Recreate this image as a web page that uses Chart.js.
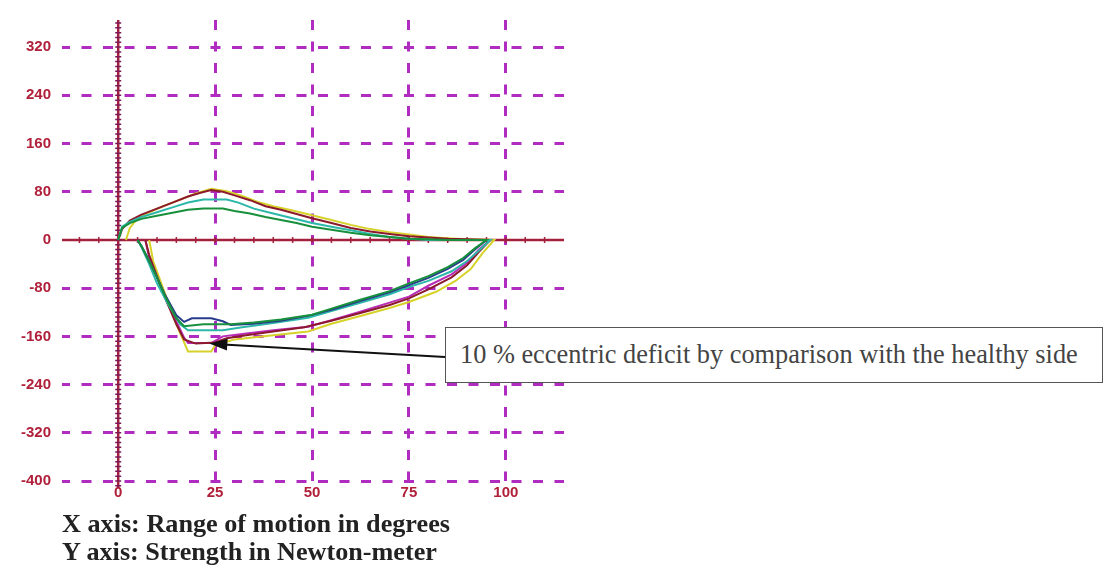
<!DOCTYPE html>
<html>
<head>
<meta charset="utf-8">
<script src="https://cdn.jsdelivr.net/npm/chart.js@4.4.1/dist/chart.umd.min.js"></script>
<style>
  body { margin: 0; background: #fff; }
  #wrap { position: relative; width: 1104px; height: 571px; overflow: hidden; }
  #graph { position: absolute; left: 0; top: 0; }
  .note {
    position: absolute; left: 445px; top: 327px; width: 658px; height: 56px;
    border: 1.5px solid #555; box-sizing: border-box; background: #fff;
    font-family: "Times New Roman", "Liberation Serif", "DejaVu Serif", serif; font-size: 26px; color: #444;
    line-height: 53px; padding-left: 14px; white-space: nowrap;
  }
  .cap {
    position: absolute; left: 62px; font-family: "Times New Roman", "Liberation Serif", "DejaVu Serif", serif;
    font-weight: bold; font-size: 26px; line-height: 28px; color: #222; white-space: nowrap;
  }
</style>
</head>
<body>
<div id="wrap">
  <canvas id="graph" width="1104" height="571"></canvas>
  <div class="note"><span id="noteText">10 % eccentric deficit by comparison with the healthy side</span></div>
  <div class="cap" style="top:510px"><span id="cap1">X axis: Range of motion in degrees</span></div>
  <div class="cap" style="top:538px"><span id="cap2">Y axis: Strength in Newton-meter</span></div>
</div>
<script>
// tick labels
const xTicks = [0, 25, 50, 75, 100]
const yTicks = [-400, -320, -240, -160, -80, 0, 80, 160, 240, 320]

// each curve: up along the concentric side, back along the eccentric side
const maroonX = [0, 1, 3, 6, 10, 14, 18, 21, 24, 27, 30, 34, 38, 42, 46, 50, 55, 60, 65, 70, 75, 80, 85, 90, 96,
                 93, 90, 86, 80, 75, 70, 62, 55, 48, 40, 33, 28, 25, 20, 17, 15, 12, 10, 8, 7]
const maroonY = [0, 18, 32, 42, 52, 62, 72, 78, 83, 80, 74, 66, 56, 50, 43, 36, 28, 20, 14, 10, 6, 4, 2, 1, 0,
                 -20, -42, -62, -82, -97, -108, -122, -134, -145, -152, -158, -163, -170, -172, -165, -140, -95, -60, -25, 0]

const yellowX = [2, 3, 5, 8, 12, 16, 20, 24, 28, 32, 36, 40, 45, 50, 55, 60, 65, 70, 75, 80, 85, 90, 97,
                 94, 91, 87, 82, 75, 70, 62, 55, 49, 40, 30, 25, 24, 18, 17, 15, 13, 11, 9, 8]
const yellowY = [0, 20, 36, 46, 57, 67, 77, 85, 81, 73, 63, 56, 49, 41, 33, 25, 18, 13, 9, 5, 3, 1, 0,
                 -22, -48, -68, -86, -103, -113, -127, -139, -152, -158, -165, -175, -185, -185, -170, -140, -105, -70, -35, 0]

const magentaX = [96, 93, 90, 86, 80, 75, 70, 62, 55, 49, 40, 32, 27, 24, 18, 17, 15, 12, 10, 8, 7]
const magentaY = [0, -16, -38, -57, -76, -94, -104, -120, -133, -144, -150, -156, -160, -171, -171, -162, -135, -95, -62, -30, 0]

const tealX = [0, 1, 3, 6, 10, 14, 18, 22, 28, 31, 35, 40, 45, 50, 55, 60, 65, 70, 75, 80,
               96, 93, 90, 86, 80, 75, 70, 62, 55, 49, 40, 32, 27, 18, 16, 13, 10, 8, 6, 5]
const tealY = [0, 22, 30, 38, 46, 54, 62, 67, 67, 62, 52, 44, 36, 28, 22, 16, 10, 5, 2, 0,
               0, -18, -35, -52, -68, -78, -90, -105, -118, -129, -138, -145, -150, -150, -140, -108, -72, -40, -12, 0]

const navyX = [95, 92, 89, 85, 80, 75, 70, 62, 55, 49, 42, 35, 29, 27, 24, 19, 17, 15, 12, 10, 8, 6, 5]
const navyY = [0, -16, -33, -48, -63, -75, -87, -102, -116, -126, -134, -139, -141, -135, -130, -130, -136, -125, -90, -62, -35, -10, 0]

const greenX = [0, 1, 3, 6, 10, 14, 18, 22, 27, 30, 34, 38, 42, 46, 50, 55, 60, 65, 70, 75, 80, 85,
                95, 92, 89, 85, 80, 75, 70, 62, 55, 50, 42, 35, 29, 22, 17, 15, 12, 10, 8, 6, 5]
const greenY = [0, 20, 28, 35, 40, 45, 50, 52, 52, 48, 44, 38, 33, 28, 22, 17, 12, 8, 5, 2, 1, 0,
                0, -14, -30, -45, -60, -72, -85, -100, -114, -124, -132, -137, -140, -140, -143, -130, -92, -62, -35, -10, 0]

// arrow tip of the note, in chart values
const arrowTip = [23.5, -172]

const purple = '#b02cc0'
const axisRed = '#a3213c'

// shrink or grow a text to the width it has in the picture
function fitWidth(id, target) {
    const el = document.getElementById(id)
    const size = parseFloat(getComputedStyle(el).fontSize)
    const w = el.getBoundingClientRect().width
    el.style.fontSize = (size * target / w).toFixed(2) + 'px'
}
fitWidth('noteText', 618)
fitWidth('cap1', 388)
fitWidth('cap2', 375)

function pts(xs, ys) {
    return xs.map((x, i) => ({ x: x, y: ys[i] }))
}
function curve(xs, ys, color) {
    return { data: pts(xs, ys), borderColor: color, borderWidth: 2, showLine: true, pointRadius: 0, tension: 0, fill: false }
}

const axesPlugin = {
    id: 'axes',
    beforeDatasetsDraw(chart) {
        const c = chart.ctx, xs = chart.scales.x, ys = chart.scales.y
        const x0 = xs.getPixelForValue(0), y0 = ys.getPixelForValue(0)
        c.save()
        c.strokeStyle = axisRed
        c.lineWidth = 2.5
        c.beginPath()
        c.moveTo(xs.left, y0); c.lineTo(xs.right, y0)
        c.moveTo(x0, ys.top); c.lineTo(x0, ys.getPixelForValue(-412))
        c.stroke()
        c.lineWidth = 1.5
        c.beginPath()
        for (let v = -10; v <= 110; v += 5) {
            const p = xs.getPixelForValue(v)
            c.moveTo(p, y0 - 3); c.lineTo(p, y0 + 3)
        }
        c.stroke()
        c.strokeStyle = '#7a1a5a'
        c.beginPath()
        for (let v = -408; v <= 364; v += 8) {
            const p = ys.getPixelForValue(v)
            c.moveTo(x0 - 3, p); c.lineTo(x0 + 3, p)
        }
        c.stroke()
        c.restore()
    },
    afterDatasetsDraw(chart) {
        const c = chart.ctx
        const tx = chart.scales.x.getPixelForValue(arrowTip[0])
        const ty = chart.scales.y.getPixelForValue(arrowTip[1])
        const ex = 445, ey = 357
        const a = Math.atan2(ey - ty, ex - tx)
        c.save()
        c.strokeStyle = '#111'
        c.fillStyle = '#111'
        c.lineWidth = 2
        c.beginPath()
        c.moveTo(tx + 14 * Math.cos(a), ty + 14 * Math.sin(a)); c.lineTo(ex, ey)
        c.stroke()
        c.beginPath()
        c.moveTo(tx, ty)
        c.lineTo(tx + 18 * Math.cos(a) - 6 * Math.sin(a), ty + 18 * Math.sin(a) + 6 * Math.cos(a))
        c.lineTo(tx + 18 * Math.cos(a) + 6 * Math.sin(a), ty + 18 * Math.sin(a) - 6 * Math.cos(a))
        c.closePath()
        c.fill()
        c.restore()
    }
}

const graph = document.getElementById('graph').getContext('2d')
let myChart = new Chart(graph, {
    type: 'scatter',
    data: {
        datasets: [
            curve(greenX, greenY, '#17903c'),
            curve(navyX, navyY, '#283c8c'),
            curve(tealX, tealY, '#2cb8a8'),
            curve(maroonX, maroonY, '#8c1a2c'),
            curve(magentaX, magentaY, '#b82cb8'),
            curve(yellowX, yellowY, '#d6d22a')
        ]
    },
    options: {
        responsive: false,
        animation: false,
        layout: { padding: { left: 0, top: 11.4, right: 540, bottom: 60 } },
        plugins: { legend: { display: false }, tooltip: { enabled: false } },
        scales: {
            x: {
                type: 'linear', min: -14.5, max: 115,
                afterBuildTicks: s => { s.ticks = xTicks.map(v => ({ value: v })) },
                afterFit: s => { s.height = 30 },
                grid: { color: ctx => ctx.tick && ctx.tick.value === 0 ? 'transparent' : purple, lineWidth: 3, drawTicks: false },
                border: { display: false, dash: [10, 11.5] },
                ticks: { color: '#b0203a', padding: 3, font: { family: 'Liberation Sans', size: 15, weight: 'bold' } }
            },
            y: {
                type: 'linear', min: -400, max: 365,
                afterBuildTicks: s => { s.ticks = yTicks.map(v => ({ value: v })) },
                afterFit: s => { s.width = 62 },
                grid: { color: ctx => ctx.tick && ctx.tick.value === 0 ? 'transparent' : purple, lineWidth: 3, drawTicks: false },
                border: { display: false, dash: [10, 11.5], dashOffset: 2 },
                ticks: { color: '#b0203a', padding: 11, font: { family: 'Liberation Sans', size: 15, weight: 'bold' } }
            }
        }
    },
    plugins: [axesPlugin]
})
</script>
</body>
</html>
